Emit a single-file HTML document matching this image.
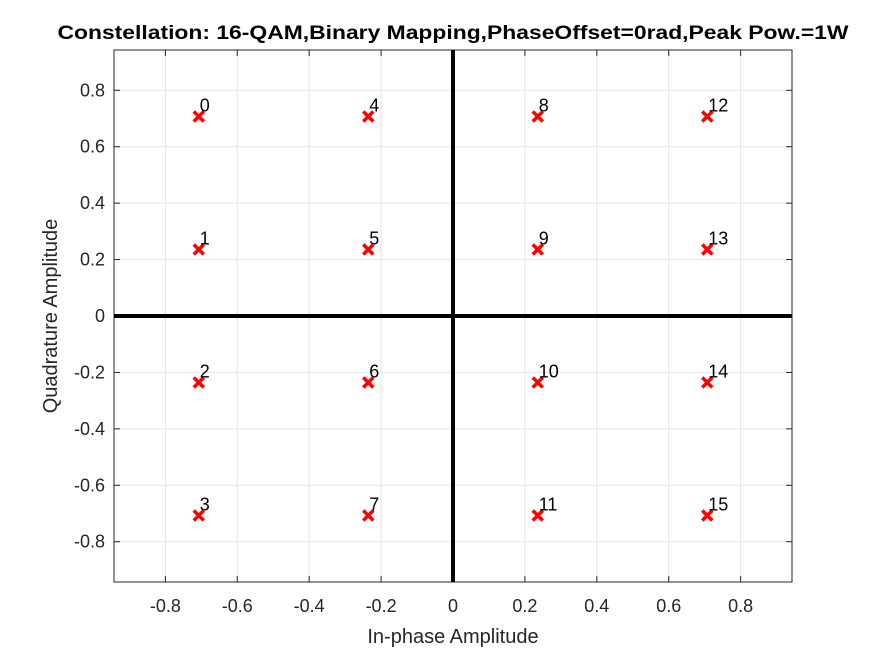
<!DOCTYPE html>
<html><head><meta charset="utf-8"><style>
body{margin:0;background:#fff}
svg{display:block;font-family:"Liberation Sans",sans-serif}
</style></head><body>
<svg id="chart" width="875" height="656"></svg>
<script>
const xVals=[-0.7071,-0.7071,-0.7071,-0.7071,-0.2357,-0.2357,-0.2357,-0.2357,0.2357,0.2357,0.2357,0.2357,0.7071,0.7071,0.7071,0.7071];
const yVals=[0.7071,0.2357,-0.2357,-0.7071,0.7071,0.2357,-0.2357,-0.7071,0.7071,0.2357,-0.2357,-0.7071,0.7071,0.2357,-0.2357,-0.7071];
const symLabels=["0","1","2","3","4","5","6","7","8","9","10","11","12","13","14","15"];
const tickVals=[-0.8,-0.6,-0.4,-0.2,0,0.2,0.4,0.6,0.8];
const tickLabels=["-0.8","-0.6","-0.4","-0.2","0","0.2","0.4","0.6","0.8"];
const lim=0.9428;
const L=114,R=792,T=50,B=582;
const sx=v=>L+(v+lim)/(2*lim)*(R-L);
const sy=v=>B-(v+lim)/(2*lim)*(B-T);
const svg=document.getElementById('chart');
const NS='http://www.w3.org/2000/svg';
function mk(tag,attrs,txt){const e=document.createElementNS(NS,tag);for(const k in attrs)e.setAttribute(k,attrs[k]);if(txt!==undefined)e.textContent=txt;svg.appendChild(e);return e;}
let e=mk('rect',{x:L,y:T,width:R-L,height:B-T,fill:'#fff'});


tickVals.forEach((v,i)=>{
  let g=mk('line',{x1:sx(v),x2:sx(v),y1:T,y2:B,stroke:'#e3e3e3','stroke-width':1});
  
  
  g=mk('line',{y1:sy(v),y2:sy(v),x1:L,x2:R,stroke:'#e3e3e3','stroke-width':1});
  
  
  let t=mk('line',{x1:sx(v),x2:sx(v),y1:B,y2:B-6,stroke:'#262626'});
  t=mk('line',{x1:sx(v),x2:sx(v),y1:T,y2:T+6,stroke:'#262626'});
  t=mk('line',{y1:sy(v),y2:sy(v),x1:L,x2:L+6,stroke:'#262626'});
  t=mk('line',{y1:sy(v),y2:sy(v),x1:R,x2:R-6,stroke:'#262626'});
  let l=mk('text',{x:sx(v),y:B+30,'text-anchor':'middle','font-size':18,fill:'#262626'},tickLabels[i]);
  
  
  l=mk('text',{x:L-9,y:sy(v)+6,'text-anchor':'end','font-size':18,fill:'#262626'},tickLabels[i]);
  
  
});
e=mk('rect',{x:L,y:T,width:R-L,height:B-T,fill:'none',stroke:'#262626','stroke-width':1});


e=mk('line',{x1:sx(0),x2:sx(0),y1:T,y2:B,stroke:'#000','stroke-width':4});


e=mk('line',{x1:L,x2:R,y1:sy(0),y2:sy(0),stroke:'#000','stroke-width':4});


xVals.forEach((xv,i)=>{
  const cx=sx(xv),cy=sy(yVals[i]),d=5;
  const p=mk('path',{d:`M${cx-d},${cy-d}L${cx+d},${cy+d}M${cx-d},${cy+d}L${cx+d},${cy-d}`,stroke:'#ff0000','stroke-width':3.5,fill:'none'});
  
  
  const t=mk('text',{x:cx+1,y:cy-5,'font-size':18,fill:'#000'},symLabels[i]);
  
  
});
e=mk('text',{x:453,y:39,'text-anchor':'middle','font-size':19,'font-weight':'bold',fill:'#000',textLength:791,lengthAdjust:'spacingAndGlyphs'},'Constellation: 16-QAM,Binary Mapping,PhaseOffset=0rad,Peak Pow.=1W');


e=mk('text',{x:453,y:643,'text-anchor':'middle','font-size':20,fill:'#262626'},'In-phase Amplitude');


e=mk('text',{x:57,y:316,'text-anchor':'middle','font-size':20,fill:'#262626',transform:'rotate(-90 57 316)'},'Quadrature Amplitude');


</script>
</body></html>
